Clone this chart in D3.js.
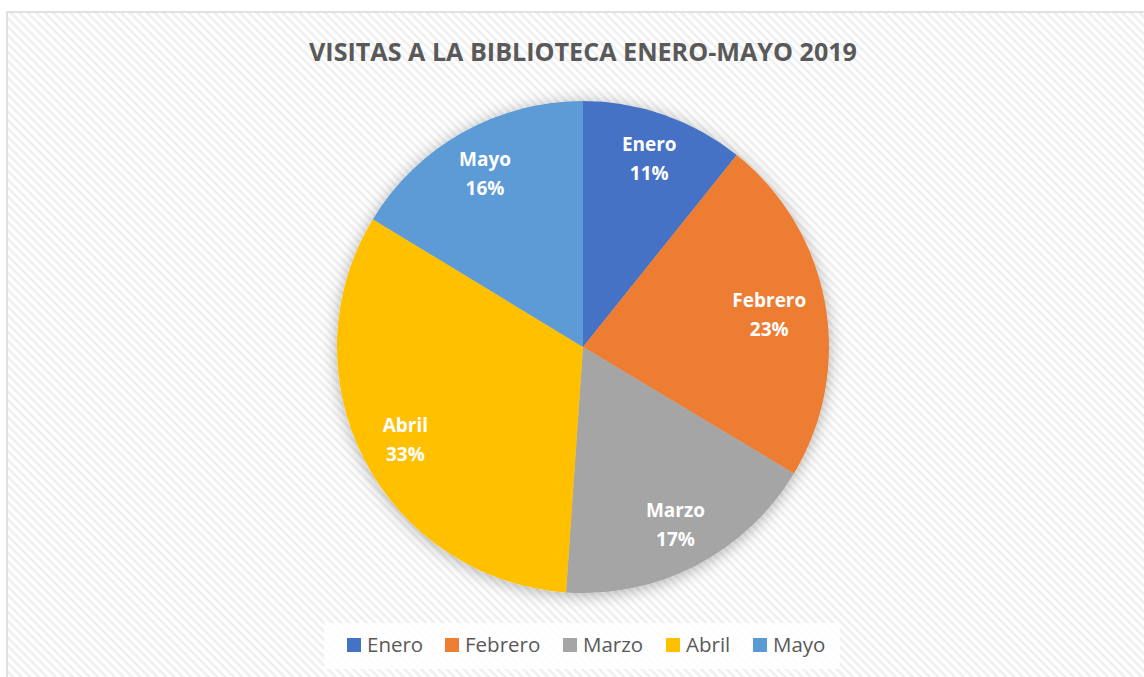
<!DOCTYPE html>
<html><head><meta charset="utf-8">
<script src="https://cdn.jsdelivr.net/npm/d3@7"></script>
<style>html,body{margin:0;padding:0;background:#fff;}svg{display:block;}</style>
</head><body>
<svg id="chart" width="1144" height="677"></svg>
<script>
const titleText = "VISITAS A LA BIBLIOTECA ENERO-MAYO 2019";
const categories = ["Enero", "Febrero", "Marzo", "Abril", "Mayo"];
const values = [10.75, 22.85, 17.5, 32.6, 16.3];
const pctLabels = ["11%", "23%", "17%", "33%", "16%"];
const colors = ["#4472C4", "#ED7D31", "#A5A5A5", "#FFC000", "#5B9BD5"];

const W = 1144, H = 677;
const cx = 583, cy = 347, R = 246;
const svg = d3.select("#chart");
const defs = svg.append("defs");

const pat = defs.append("pattern").attr("id", "stripes").attr("patternUnits", "userSpaceOnUse")
  .attr("width", 6).attr("height", 6).attr("patternTransform", "rotate(45)");
pat.append("rect").attr("width", 6).attr("height", 6).attr("fill", "#ffffff");
pat.append("rect").attr("width", 6).attr("height", 2.6).attr("fill", "#efefef");

const sh = defs.append("filter").attr("id", "shadow").attr("x", "-20%").attr("y", "-20%").attr("width", "140%").attr("height", "140%");
sh.append("feDropShadow").attr("dx", 0).attr("dy", 2).attr("stdDeviation", 8)
  .attr("flood-color", "#000").attr("flood-opacity", 0.3);

svg.append("rect").attr("x", 0).attr("y", 0).attr("width", W).attr("height", H).attr("fill", "#fff");
svg.append("rect").attr("x", 7).attr("y", 12).attr("width", W + 10).attr("height", H + 10)
  .attr("fill", "url(#stripes)").attr("stroke", "#d9d9d9").attr("stroke-width", 1.5);

const font = "'Open Sans', 'Noto Sans', sans-serif";

function fit(sel, w) {
  const n = sel.node().getComputedTextLength();
  if (Math.abs(n - w) > 1) sel.attr("textLength", w).attr("lengthAdjust", "spacingAndGlyphs");
}

const title = svg.append("text").attr("x", cx).attr("y", 61).attr("text-anchor", "middle")
  .attr("font-family", font).attr("font-weight", 700).attr("font-size", 25).attr("fill", "#595959")
  .text(titleText);
fit(title, 548);

const pie = d3.pie().value(d => d).sort(null);
const arcs = pie(values);
const arc = d3.arc().innerRadius(0).outerRadius(R);

const g = svg.append("g").attr("transform", `translate(${cx},${cy})`);
g.append("g").attr("filter", "url(#shadow)").selectAll("path").data(arcs).join("path")
  .attr("d", arc).attr("fill", (d, i) => colors[i]);

const lbl = g.selectAll("text.lbl").data(arcs).join("text").attr("class", "lbl")
  .attr("text-anchor", "middle").attr("font-family", font).attr("font-weight", 700)
  .attr("font-size", 19).attr("fill", "#fff");
lbl.append("tspan").attr("x", 0).attr("y", -7).text((d, i) => categories[i]);
lbl.append("tspan").attr("x", 0).attr("y", 22).text((d, i) => pctLabels[i]);
// wider labels are pulled a little toward the centre so they stay inside the slice
lbl.attr("transform", function (d) {
  const w = this.getBBox().width;
  const r = 200 - Math.max(0, w - 62) * 0.9;
  return `translate(${d3.arc().innerRadius(r).outerRadius(r).centroid(d)})`;
});

// legend
const leg = svg.append("g");
leg.append("rect").attr("x", 324).attr("y", 623).attr("width", 516).attr("height", 46)
  .attr("fill", "#fff").attr("fill-opacity", 0.85);
const sqX = [347, 445, 563, 666, 753];
const items = leg.selectAll("g.item").data(categories).join("g").attr("class", "item");
items.append("rect").attr("x", (d, i) => sqX[i]).attr("y", 638).attr("width", 14).attr("height", 14)
  .attr("fill", (d, i) => colors[i]);
items.append("text").attr("x", (d, i) => sqX[i] + 20).attr("y", 652)
  .attr("font-family", font).attr("font-size", 20.5).attr("fill", "#595959").text(d => d);
</script>
</body></html>
